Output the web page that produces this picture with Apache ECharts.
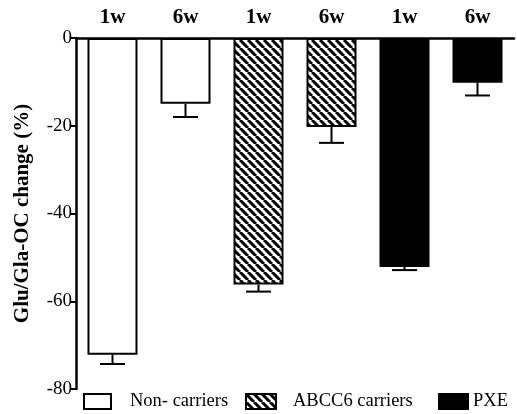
<!DOCTYPE html>
<html>
<head>
<meta charset="utf-8">
<script src="https://cdn.jsdelivr.net/npm/echarts@6/dist/echarts.min.js"></script>
<style>
  html, body { margin: 0; padding: 0; background: #fff; }
  #chart { width: 517px; height: 414px; }
</style>
</head>
<body>
<div id="chart"></div>
<script>
const categories = ['1w', '6w', '1w', '6w', '1w', '6w']
const groups = ['Non- carriers', 'ABCC6 carriers', 'PXE']
// mean change per bar, '-' where the group has no bar
const nonCarriers = [-72.2, -15.0, '-', '-', '-', '-']
const abcc6Carriers = ['-', '-', -56.2, -20.3, '-', '-']
const pxe = ['-', '-', '-', '-', -52.2, -10.2]
// error bar length (downwards), per category
const errors = [2.1, 3.0, 1.6, 3.6, 0.7, 2.9]
const means = [-72.2, -15.0, -56.2, -20.3, -52.2, -10.2]

const font = 'Liberation Serif'

// diagonal hatch for the ABCC6 bars
function hatch() {
  const s = 8
  const c = document.createElement('canvas')
  c.width = s
  c.height = s
  const ctx = c.getContext('2d')
  ctx.fillStyle = '#fff'
  ctx.fillRect(0, 0, s, s)
  ctx.strokeStyle = '#000'
  ctx.lineWidth = 3
  ctx.beginPath()
  for (let k = -1; k <= 1; k++) {
    ctx.moveTo(k * s, 0)
    ctx.lineTo(k * s + s, s)
  }
  ctx.stroke()
  return c
}

const chart = echarts.init(document.getElementById('chart'))

const barBase = {
  type: 'bar',
  barWidth: 50,
  barGap: '-100%',
  z: 2
}

function legendFor(name, left, w, gap) {
  return {
    data: [name],
    left: left,
    top: 392,
    padding: 0,
    icon: 'rect',
    itemWidth: w,
    itemHeight: 15,
    selectedMode: false,
    textStyle: {
      fontFamily: font,
      fontSize: 18.5,
      color: '#000',
      padding: [0, 0, 0, gap]
    }
  }
}

chart.setOption({
  animation: false,
  grid: { left: 76, right: 3, top: 38, bottom: 25 },
  legend: [
    legendFor(groups[0], 83, 27, 14),
    legendFor(groups[1], 245, 30, 12),
    legendFor(groups[2], 438, 29, 0)
  ],
  xAxis: {
    type: 'category',
    position: 'top',
    data: categories,
    axisLine: { lineStyle: { color: '#000', width: 2.5 } },
    axisTick: { show: false },
    axisLabel: {
      margin: 10,
      fontFamily: font,
      fontWeight: 'bold',
      fontSize: 21,
      color: '#000'
    }
  },
  yAxis: {
    type: 'value',
    min: -80,
    max: 0,
    interval: 20,
    name: 'Glu/Gla-OC change (%)',
    nameLocation: 'middle',
    nameGap: 43,
    nameTextStyle: {
      fontFamily: font,
      fontWeight: 'bold',
      fontSize: 21,
      color: '#000'
    },
    axisLine: { show: true, lineStyle: { color: '#000', width: 2.5 } },
    axisTick: { show: true, length: 5, lineStyle: { color: '#000', width: 2 } },
    axisLabel: {
      margin: 4,
      fontFamily: font,
      fontSize: 19,
      color: '#000'
    },
    splitLine: { show: false }
  },
  series: [
    Object.assign({}, barBase, {
      name: groups[0],
      data: nonCarriers,
      itemStyle: { color: '#fff', borderColor: '#000', borderWidth: 2 }
    }),
    Object.assign({}, barBase, {
      name: groups[1],
      data: abcc6Carriers,
      itemStyle: {
        color: { image: hatch(), repeat: 'repeat' },
        borderColor: '#000',
        borderWidth: 2
      }
    }),
    Object.assign({}, barBase, {
      name: groups[2],
      data: pxe,
      itemStyle: { color: '#000', borderColor: '#000', borderWidth: 2 }
    }),
    {
      type: 'custom',
      name: 'err',
      z: 3,
      data: means.map((m, i) => [i, m, m - errors[i]]),
      renderItem: function(params, api) {
        const top = api.coord([api.value(0), api.value(1)])
        const bot = api.coord([api.value(0), api.value(2)])
        const half = 12.5
        return {
          type: 'group',
          children: [
            {
              type: 'line',
              shape: { x1: top[0], y1: top[1], x2: bot[0], y2: bot[1] },
              style: { stroke: '#000', lineWidth: 2 }
            },
            {
              type: 'line',
              shape: { x1: bot[0] - half, y1: bot[1], x2: bot[0] + half, y2: bot[1] },
              style: { stroke: '#000', lineWidth: 2 }
            }
          ]
        }
      }
    }
  ]
})
</script>
</body>
</html>
